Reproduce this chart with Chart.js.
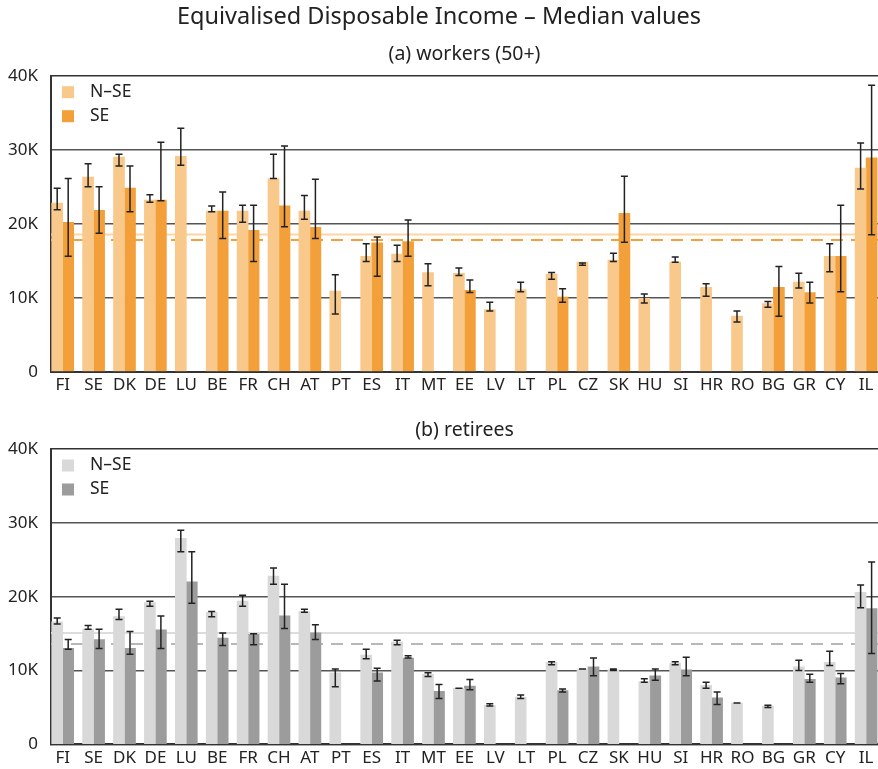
<!DOCTYPE html>
<html>
<head>
<meta charset="utf-8">
<script src="https://cdn.jsdelivr.net/npm/chart.js@4.4.1/dist/chart.umd.min.js"></script>
<style>
  body { margin: 0; background: #fff; overflow: hidden; }
  canvas { display: block; }
</style>
</head>
<body>
<canvas id="workers" width="878" height="400"></canvas>
<canvas id="retirees" width="878" height="369"></canvas>
<script>
// values in thousands (K)
const countries = ['FI', 'SE', 'DK', 'DE', 'LU', 'BE', 'FR', 'CH', 'AT', 'PT', 'ES', 'IT', 'MT', 'EE',
  'LV', 'LT', 'PL', 'CZ', 'SK', 'HU', 'SI', 'HR', 'RO', 'BG', 'GR', 'CY', 'IL'];
const yTicks = [0, 10, 20, 30, 40];

// (a) workers (50+)
const workersNse = [22.8, 26.3, 29.0, 23.2, 29.1, 21.7, 21.7, 26.1, 21.7, 10.9, 15.6, 15.9, 13.4, 13.3,
  8.4, 11.1, 13.2, 14.8, 15.1, 9.9, 14.8, 11.4, 7.5, 9.2, 12.1, 15.6, 27.5];
const workersNseLow = [21.9, 25.0, 27.8, 22.9, 27.9, 21.6, 20.2, 26.1, 20.6, 7.8, 14.9, 14.9, 11.6, 13.0,
  8.2, 10.8, 12.5, 14.4, 14.9, 9.3, 14.8, 10.2, 6.7, 8.7, 11.3, 13.5, 24.7];
const workersNseHigh = [24.8, 28.1, 29.4, 23.9, 32.9, 22.4, 22.5, 29.4, 23.8, 13.1, 17.3, 17.1, 14.6, 14.0,
  9.4, 12.1, 13.4, 14.7, 16.0, 10.5, 15.5, 11.9, 8.2, 9.5, 13.3, 17.3, 30.9];
const workersSe = [20.2, 21.8, 24.8, 23.2, null, 21.7, 19.1, 22.4, 19.5, null, 17.4, 17.6, null, 11.0,
  null, null, 10.1, null, 21.4, null, null, null, null, 11.4, 10.7, 15.6, 28.9];
const workersSeLow = [15.6, 18.7, 21.6, 23.1, null, 18.0, 14.9, 19.6, 18.0, null, 12.9, 15.6, null, 10.7,
  null, null, 9.4, null, 17.5, null, null, null, null, 7.5, 9.3, 10.8, 18.5];
const workersSeHigh = [26.1, 25.0, 27.8, 31.0, null, 24.3, 22.5, 30.5, 26.0, null, 18.2, 20.5, null, 12.4,
  null, null, 11.2, null, 26.4, null, null, null, null, 14.2, 12.1, 22.5, 38.7];
const workersMeans = [18.55, 17.8]; // N-SE, SE

// (b) retirees
const retireesNse = [16.6, 15.6, 17.3, 19.2, 27.9, 17.9, 19.4, 22.8, 18.0, 9.7, 12.1, 13.9, 9.5, 7.6,
  5.3, 6.4, 11.1, 10.2, 10.1, 8.5, 11.0, 8.0, 5.6, 5.2, 10.5, 11.1, 20.6];
const retireesNseLow = [16.3, 15.6, 16.9, 18.7, 26.1, 17.3, 18.7, 21.7, 17.9, 7.8, 11.6, 13.5, 9.2, 7.6,
  5.2, 6.2, 10.8, 10.2, 10.0, 8.4, 10.8, 7.6, 5.6, 5.0, 10.0, 10.7, 18.5];
const retireesNseHigh = [17.1, 16.1, 18.3, 19.4, 29.0, 18.0, 20.2, 23.9, 18.3, 10.2, 12.9, 14.1, 9.7, 7.6,
  5.5, 6.7, 11.2, 10.2, 10.2, 8.9, 11.2, 8.4, 5.6, 5.3, 11.4, 12.6, 21.6];
const retireesSe = [13.0, 14.2, 13.0, 15.5, 22.0, 14.4, 14.9, 17.4, 15.1, null, 9.7, 11.7, 7.2, 7.9,
  null, null, 7.3, 10.5, null, 9.3, 10.1, 6.3, null, null, 8.8, 9.0, 18.4];
const retireesSeLow = [12.9, 13.0, 12.2, 13.0, 19.1, 13.4, 13.5, 15.7, 14.2, null, 8.6, 11.7, 6.2, 7.4,
  null, null, 7.1, 9.3, null, 8.7, 9.3, 5.4, null, null, 8.4, 8.2, 12.3];
const retireesSeHigh = [14.2, 15.6, 15.3, 17.4, 26.1, 15.1, 15.0, 21.7, 16.2, null, 10.3, 12.0, 8.1, 8.8,
  null, null, 7.5, 11.7, null, 10.2, 11.8, 7.1, null, null, 9.5, 9.6, 24.7];
const retireesMeans = [15.1, 13.6];

Chart.defaults.font.family = "'Noto Sans', sans-serif";
Chart.defaults.color = '#222';

function toPoints(values) {
  return values.map((v, i) => ({ x: i, y: v }));
}

// whiskers on top of bars
const errorBars = {
  id: 'errorBars',
  afterDatasetsDraw(chart) {
    const ctx = chart.ctx;
    const y = chart.scales.y;
    ctx.save();
    ctx.strokeStyle = '#222';
    ctx.lineWidth = 1.5;
    chart.data.datasets.forEach((ds, i) => {
      if (!ds.errLow) return;
      chart.getDatasetMeta(i).data.forEach((bar, j) => {
        if (ds.errLow[j] == null) return;
        const lo = y.getPixelForValue(ds.errLow[j]);
        const hi = y.getPixelForValue(ds.errHigh[j]);
        ctx.beginPath();
        ctx.moveTo(bar.x, lo);
        ctx.lineTo(bar.x, hi);
        ctx.moveTo(bar.x - 3.5, lo);
        ctx.lineTo(bar.x + 3.5, lo);
        ctx.moveTo(bar.x - 3.5, hi);
        ctx.lineTo(bar.x + 3.5, hi);
        ctx.stroke();
      });
    });
    ctx.restore();
  }
};

// average lines behind the bars
function meanLines(means, styles) {
  return {
    id: 'meanLines',
    beforeDatasetsDraw(chart) {
      const { ctx, chartArea } = chart;
      const y = chart.scales.y;
      ctx.save();
      means.forEach((m, i) => {
        const py = y.getPixelForValue(m);
        ctx.strokeStyle = styles[i].color;
        ctx.lineWidth = styles[i].width;
        ctx.setLineDash(styles[i].dash);
        ctx.beginPath();
        ctx.moveTo(chartArea.left, py);
        ctx.lineTo(chartArea.right, py);
        ctx.stroke();
      });
      ctx.restore();
    }
  };
}

// legend sitting inside the plot, top left
const boxLegend = {
  id: 'boxLegend',
  afterDraw(chart) {
    const { ctx, chartArea } = chart;
    ctx.save();
    ctx.font = "17.5px 'Noto Sans', sans-serif";
    ctx.textBaseline = 'middle';
    chart.data.datasets.forEach((ds, i) => {
      const top = chartArea.top + 10.5 + i * 24;
      ctx.fillStyle = ds.backgroundColor;
      ctx.fillRect(chartArea.left + 11, top, 12, 12);
      ctx.fillStyle = '#222';
      ctx.fillText(ds.label, chartArea.left + 39, top + 6);
    });
    ctx.restore();
  }
};

function createPanel(ctx, cfg) {
  new Chart(ctx, {
    type: 'bar',
    data: {
      datasets: [{
        label: 'N–SE',
        data: toPoints(cfg.nse),
        errLow: cfg.nseLow,
        errHigh: cfg.nseHigh,
        backgroundColor: cfg.colors[0],
        borderWidth: 0
      }, {
        label: 'SE',
        data: toPoints(cfg.se),
        errLow: cfg.seLow,
        errHigh: cfg.seHigh,
        backgroundColor: cfg.colors[1],
        borderWidth: 0
      }]
    },
    options: {
      responsive: false,
      animation: false,
      events: [],
      barThickness: 11,
      layout: { padding: { left: 0, right: 0, top: 0, bottom: cfg.padBottom } },
      plugins: {
        legend: { display: false },
        tooltip: { enabled: false },
        title: cfg.title,
        subtitle: cfg.subtitle
      },
      scales: {
        x: {
          type: 'linear',
          min: -0.3786,
          max: 26.385,
          bounds: 'data',
          offset: false,
          // one tick per country
          afterBuildTicks(scale) { scale.ticks = countries.map((c, i) => ({ value: i })); },
          afterFit(scale) { scale.height = 24; },
          grid: { display: false, drawTicks: false },
          border: { color: '#333', width: 2 },
          ticks: {
            autoSkip: false,
            maxRotation: 0,
            padding: cfg.xPad,
            font: { size: 17 },
            callback: v => countries[v] ?? ''
          }
        },
        y: {
          min: yTicks[0],
          max: yTicks[yTicks.length - 1],
          afterFit(scale) { scale.width = 51; },
          grid: {
            color: c => c.tick.value === 40 ? '#333' : '#555',
            lineWidth: 1.5,
            drawTicks: false
          },
          border: { color: '#333', width: 2 },
          ticks: {
            stepSize: 10,
            padding: 13,
            font: { size: 17 },
            callback: v => v === 0 ? '0' : v + 'K'
          }
        }
      }
    },
    plugins: [meanLines(cfg.means, cfg.meanStyles), errorBars, boxLegend]
  });
}

createPanel(document.getElementById('workers'), {
  nse: workersNse, nseLow: workersNseLow, nseHigh: workersNseHigh,
  se: workersSe, seLow: workersSeLow, seHigh: workersSeHigh,
  means: workersMeans,
  colors: ['#F9C88B', '#F3A03A'],
  meanStyles: [
    { color: '#FAD5A6', width: 2, dash: [] },
    { color: '#F3A03A', width: 1.8, dash: [12, 8] }
  ],
  padBottom: 4.3,
  xPad: 3,
  title: {
    display: true,
    text: 'Equivalised Disposable Income – Median values',
    font: { size: 23.5, weight: 'normal' },
    color: '#222',
    padding: { top: 2.9, bottom: 11.2 }
  },
  subtitle: {
    display: true,
    text: '(a) workers (50+)',
    font: { size: 19.5 },
    color: '#222',
    fullSize: false,
    padding: { top: 0, bottom: 10 }
  }
});

createPanel(document.getElementById('retirees'), {
  nse: retireesNse, nseLow: retireesNseLow, nseHigh: retireesNseHigh,
  se: retireesSe, seLow: retireesSeLow, seHigh: retireesSeHigh,
  means: retireesMeans,
  colors: ['#D9D9D9', '#9C9C9C'],
  meanStyles: [
    { color: '#DDDDDD', width: 2, dash: [] },
    { color: '#A0A0A0', width: 1.5, dash: [12, 8] }
  ],
  padBottom: 0.6,
  xPad: 3.5,
  title: {
    display: true,
    text: '(b) retirees',
    font: { size: 19.5, weight: 'normal' },
    color: '#222',
    fullSize: false,
    padding: { top: 18.3, bottom: 7.3 }
  },
  subtitle: { display: false }
});
</script>
</body>
</html>
